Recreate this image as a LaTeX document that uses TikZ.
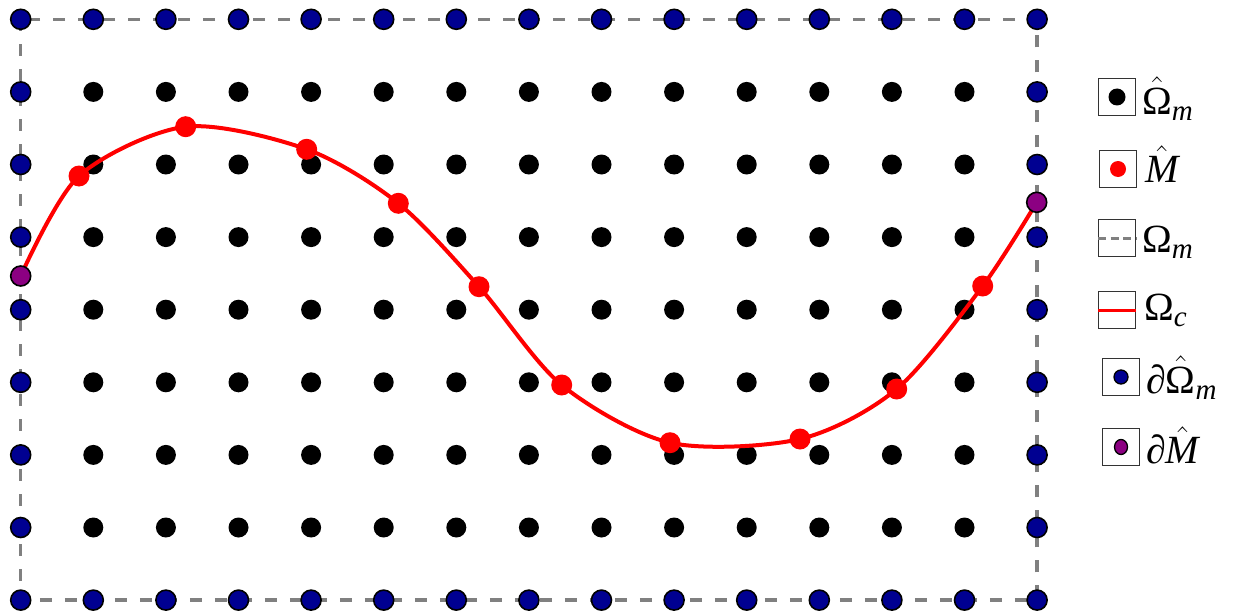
\RequirePackage{fix-cm}
\documentclass[tikz,border=0pt]{standalone}
\usepackage{fontspec}
\setmainfont{Liberation Serif}
\usetikzlibrary{shapes.geometric}
\definecolor{myblue}{RGB}{0,0,145}
\definecolor{mypurple}{RGB}{140,0,130}
\definecolor{mygray}{RGB}{128,128,128}
\newcommand\mysub[1]{\mbox{\fontsize{29}{29}\selectfont\itshape #1}}
\newcommand\myit[1]{\mbox{\itshape #1}}
\begin{document}
\begin{tikzpicture}[x=1pt,y=-1pt,
  bnd/.style={circle,draw=black,line width=1.6pt,fill=myblue,minimum size=20pt,inner sep=0pt},
  inn/.style={circle,fill=black,minimum size=20pt,inner sep=0pt},
  rdot/.style={circle,fill=red,minimum size=21pt,inner sep=0pt},
  pdot/.style={circle,draw=black,line width=1.6pt,fill=mypurple,minimum size=20pt,inner sep=0pt},
  framebox/.style={draw=mygray,line width=3.5pt,dash pattern=on 12pt off 13pt},
  curvestyle/.style={red,line width=4pt},
  lbox/.style={draw=black!80,line width=0.9pt,minimum size=37pt,inner sep=0pt},
  ltext/.style={anchor=base west,inner sep=0pt,font=\fontsize{40}{46}\selectfont}]
\useasboundingbox (0,0) rectangle (1233,615);
% frame
\coordinate (tl) at (20.7,19.3);
\coordinate (br) at (1037.1,600.1);
\draw[framebox] (tl) rectangle (br);
% grid
\foreach \i in {0,...,14}{
  \foreach \j in {0,...,8}{
    \pgfmathsetmacro\px{20.7+72.6*\i}
    \pgfmathsetmacro\py{19.3+72.6*\j}
    \pgfmathtruncatemacro\isb{or(or(\i==0,\i==14),or(\j==0,\j==8))}
    \ifnum\isb=1
      \node[bnd] (g-\i-\j) at (\px,\py) {};
    \else
      \node[inn] (g-\i-\j) at (\px,\py) {};
    \fi
  }
}
% curve points
\coordinate (c0) at (20.7,276);
\coordinate (c1) at (79,176);
\coordinate (c2) at (185.7,126.7);
\coordinate (c3) at (306.7,149.3);
\coordinate (c4) at (398.3,203.3);
\coordinate (c5) at (479,286.7);
\coordinate (c6) at (561.7,385);
\coordinate (c7) at (670,442.7);
\coordinate (c8) at (800,439);
\coordinate (c9) at (896.7,389);
\coordinate (c10) at (982.7,286);
\coordinate (c11) at (1036.7,202.3);
\draw[curvestyle] plot[smooth] coordinates {(c0) (c1) (c2) (c3) (c4) (c5) (c6) (c7) (c8) (c9) (c10) (c11)};
\foreach \k in {1,...,10}{
  \node[rdot] (m-\k) at (c\k) {};
}
\node[pdot] (p-0) at (c0) {};
\node[pdot] (p-1) at (c11) {};
% legend
\node[lbox] (k1) at (1117,97) {};
\node[inn,minimum size=17pt] (k1d) at (k1.center) {};
\node[ltext] (t1) at (1142,114) {$\hat{\mbox{Ω}}_{\mysub{m}}$};
\node[lbox] (k2) at (1118,169) {};
\node[rdot,minimum size=16pt] (k2d) at (k2.center) {};
\node[ltext] (t2) at (1145,182) {$\hat{\myit{M}}$};
\node[lbox] (k3) at (1117,238) {};
\draw[draw=mygray,line width=3pt,dash pattern=on 8pt off 4.5pt] (k3.west) -- (k3.east);
\node[ltext] (t3) at (1142,252) {$\mbox{Ω}_{\mysub{m}}$};
\node[lbox] (k4) at (1117,310) {};
\draw[red,line width=3pt] (k4.west) -- (k4.east);
\node[ltext] (t4) at (1144,320) {$\mbox{Ω}_{\mysub{c}}$};
\node[lbox] (k5) at (1121,377) {};
\node[bnd,minimum size=14pt,line width=1.3pt] (k5d) at (k5.center) {};
\node[ltext] (t5) at (1146,393) {$\myit{∂}\hat{\mbox{Ω}}_{\mysub{m}}$};
\node[lbox] (k6) at (1121,447) {};
\node[ellipse,draw=black,line width=1.3pt,fill=mypurple,minimum width=13pt,minimum height=15pt,inner sep=0pt] (k6d) at (k6.center) {};
\node[ltext] (t6) at (1146,463) {$\myit{∂}\hat{\myit{M}}$};
\end{tikzpicture}
\end{document}
